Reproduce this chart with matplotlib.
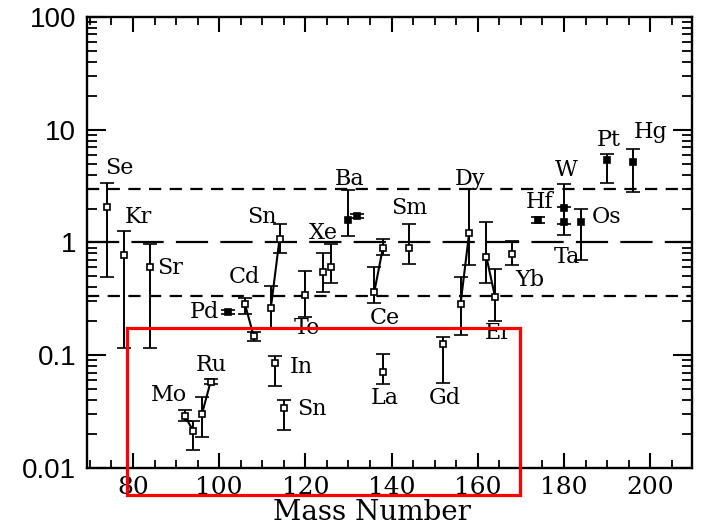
import matplotlib
matplotlib.use("Agg")
import matplotlib.pyplot as plt
from matplotlib.patches import Rectangle
from matplotlib.ticker import MultipleLocator, FixedLocator, LogLocator, NullFormatter

# isotope measurements: element, mass number, ratio, lower / upper error bar ends, filled marker
elements = ["Se", "Kr", "Sr", "Mo", "Mo", "Ru", "Ru", "Pd", "Cd", "Cd", "In", "Sn", "Sn", "Sn",
            "Te", "Xe", "Xe", "Ba", "Ba", "La", "Ce", "Ce", "Sm", "Gd", "Dy", "Dy", "Er", "Er",
            "Yb", "Hf", "Ta", "W", "Os", "Pt", "Hg"]
mass = [74, 78, 84, 92, 94, 96, 98, 102, 106, 108, 113, 112, 114, 115,
        120, 124, 126, 130, 132, 138, 136, 138, 144, 152, 156, 158, 162, 164,
        168, 174, 180, 180, 184, 190, 196]
ratio = [2.08, 0.77, 0.61, 0.029, 0.0213, 0.030, 0.058, 0.243, 0.283, 0.148, 0.085, 0.264, 1.07, 0.0343,
         0.342, 0.55, 0.61, 1.58, 1.72, 0.0714, 0.366, 0.90, 0.887, 0.126, 0.283, 1.21, 0.748, 0.33,
         0.79, 1.58, 1.53, 2.01, 1.53, 5.39, 5.21]
err_lo = [0.497, 0.115, 0.115, 0.0262, 0.0144, 0.019, 0.055, 0.233, 0.234, 0.135, 0.0534, 0.17, 0.80, 0.0217,
          0.22, 0.366, 0.44, 1.15, 1.65, 0.0552, 0.29, 0.77, 0.64, 0.0571, 0.151, 0.63, 0.44, 0.202,
          0.63, 1.50, 1.17, 1.45, 0.70, 3.35, 2.79]
err_hi = [3.35, 1.27, 0.963, 0.0327, 0.0262, 0.0424, 0.061, 0.253, 0.32, 0.16, 0.0985, 0.414, 1.45, 0.0401,
          0.562, 0.81, 0.963, 2.92, 1.80, 0.1026, 0.61, 1.07, 1.46, 0.144, 0.49, 2.98, 1.51, 0.578,
          1.03, 1.68, 2.05, 3.28, 1.98, 6.1, 6.75]
filled = [False, False, False, False, False, False, False, True, False, False, False, False, False, False,
          False, False, False, True, True, False, False, False, False, False, False, False, False, False,
          False, True, True, True, True, True, True]

# isotope pairs joined by a line (mass numbers of the same element)
pairs = [("Mo", 92, 94), ("Ru", 96, 98), ("Cd", 106, 108), ("Sn", 112, 114),
         ("Ce", 136, 138), ("Dy", 156, 158), ("Er", 162, 164)]

# element labels and their positions
label_text = ["Se", "Kr", "Sr", "Sn", "Cd", "Pd", "Te", "Xe", "Ba", "Sm", "Ce", "Dy", "Er", "Yb",
              "Hf", "W", "Ta", "Os", "Pt", "Hg", "Mo", "Ru", "In", "Sn", "La", "Gd"]
label_x = [76.9, 81.2, 88.5, 109.8, 105.9, 96.7, 120.3, 124.1, 130.2, 144.0, 138.5, 158.2, 164.8, 172.1,
           174.4, 180.6, 180.6, 189.9, 190.3, 200.0, 88.4, 98.2, 119.1, 121.5, 138.5, 152.4]
label_y = [4.55, 1.69, 0.59, 1.69, 0.497, 0.243, 0.175, 1.21, 3.64, 2.01, 0.213, 3.66, 0.157, 0.465,
           2.30, 4.40, 0.748, 1.69, 8.11, 9.61, 0.0444, 0.082, 0.079, 0.0334, 0.0415, 0.0415]

# reference levels
ref_short = [3.0, 1.0 / 3.0]
ref_long = [1.0]

x_ticks = [80, 100, 120, 140, 160, 180, 200]
y_ticks = [0.01, 0.1, 1, 10, 100]
y_tick_labels = ["0.01", "0.1", "1", "10", "100"]

SERIF = ["DejaVu Serif"]
SANS = ["Liberation Sans"]

fig = plt.figure(figsize=(7.01, 5.24), dpi=100)
ax = fig.add_axes([0.1245, 0.107, 0.862, 0.8605])

ax.set_yscale("log")
ax.set_xlim(69.4, 209.6)
ax.set_ylim(0.01, 100)

for v in ref_short:
    ax.axhline(v, color="black", lw=1.6, dashes=(5.5, 3.8), zorder=1)
for v in ref_long:
    ax.axhline(v, color="black", lw=1.6, dashes=(14.5, 5.5), zorder=1)

for el, a, b in pairs:
    ia = [i for i in range(len(mass)) if elements[i] == el and mass[i] == a][0]
    ib = [i for i in range(len(mass)) if elements[i] == el and mass[i] == b][0]
    ax.plot([mass[ia], mass[ib]], [ratio[ia], ratio[ib]], color="black", lw=1.5, zorder=2)

for i in range(len(mass)):
    yerr = [[ratio[i] - err_lo[i]], [err_hi[i] - ratio[i]]]
    ax.errorbar(mass[i], ratio[i], yerr=yerr, fmt="s", ms=4.2,
                mfc="black" if filled[i] else "white", mec="black", mew=1.2,
                ecolor="black", elinewidth=1.4, capsize=4.8, capthick=1.4, zorder=3)

for t, x, y in zip(label_text, label_x, label_y):
    ax.text(x, y, t, family=SERIF, fontsize=16, ha="center", va="center", zorder=4)

for s in ax.spines.values():
    s.set_linewidth(1.7)

ax.xaxis.set_major_locator(FixedLocator(x_ticks))
ax.xaxis.set_minor_locator(MultipleLocator(5))
ax.set_xticklabels([str(t) for t in x_ticks], family=SERIF, fontsize=18)
ax.yaxis.set_major_locator(FixedLocator(y_ticks))
ax.yaxis.set_minor_locator(LogLocator(base=10, subs=range(2, 10)))
ax.yaxis.set_minor_formatter(NullFormatter())
ax.set_yticklabels(y_tick_labels, family=SANS, fontsize=20)

ax.tick_params(which="both", direction="in", top=True, right=True, color="black")
ax.tick_params(axis="x", which="major", length=11, width=1.5, pad=6)
ax.tick_params(axis="x", which="minor", length=6, width=1.3)
ax.tick_params(axis="y", which="major", length=14, width=1.5, pad=8)
ax.tick_params(axis="y", which="minor", length=7, width=1.3)

# axis title placed just under the tick labels
fig.text(0.531, 1 - 512.0 / 524.0, "Mass Number", family=SERIF, fontsize=20,
         ha="center", va="center")

# highlighted region of the low-ratio nuclei
W, H = 701.0, 524.0
rect = Rectangle((127.3 / W, 1 - 495.0 / H), (520.0 - 127.3) / W, (495.0 - 328.3) / H,
                 transform=fig.transFigure, fill=False, edgecolor="#ff0000", lw=2.3, zorder=10)
fig.patches.append(rect)

fig.savefig("out.png", dpi=100)
